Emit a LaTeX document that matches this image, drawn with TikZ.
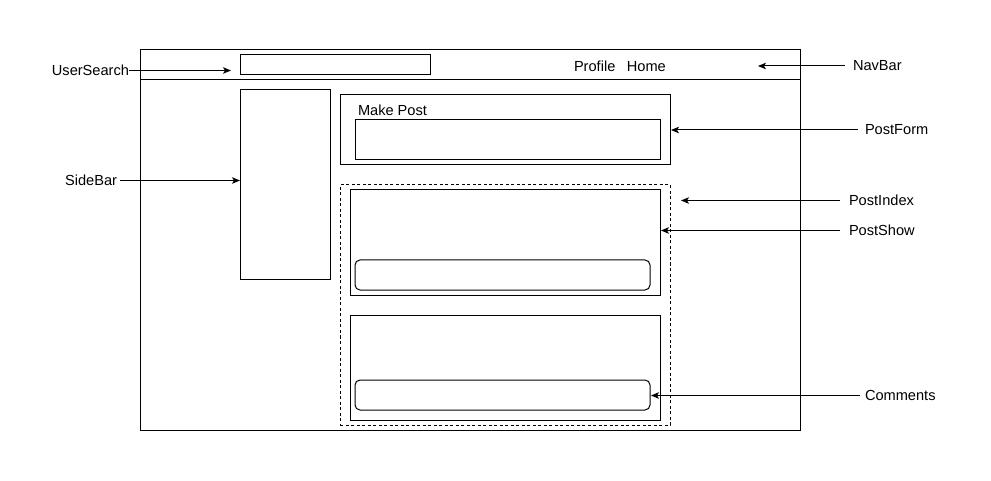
\documentclass[tikz,border=0pt]{standalone}
\usepackage{fontspec}
\setmainfont{Liberation Sans}
\usetikzlibrary{arrows.meta}
\begin{document}
\begin{tikzpicture}[x=1pt,y=-1pt,
  box/.style={draw, line width=1pt, inner sep=0pt, outer sep=0pt, anchor=north west},
  rbox/.style={box, rounded corners=5pt},
  dbox/.style={box, dash pattern=on 3pt off 2.5pt},
  lbl/.style={inner sep=0pt, outer sep=0pt, font=\fontsize{14.6pt}{17pt}\selectfont},
  conn/.style={line width=1pt},
  arr/.style={line width=1pt, -{Stealth[length=8pt,width=6.5pt,inset=2pt]}}]
\useasboundingbox (0,0) rectangle (991,481);
% frame and navbar
\node[box, minimum width=660pt, minimum height=380pt] (frame) at (140,50) {};
\coordinate (navl) at (140,80);
\coordinate (navr) at (800,80);
\draw[conn] (navl) -- (navr);
\node[box, minimum width=190pt, minimum height=20pt] (search) at (240,55) {};
\node[lbl, anchor=west] (links) at (574,66) {Profile\hspace{11.5pt}Home};
% sidebar
\node[box, minimum width=90pt, minimum height=190pt] (side) at (240,90) {};
% post form
\node[box, minimum width=330pt, minimum height=70pt] (form) at (340,95) {};
\node[lbl, anchor=west] (make) at (358,110) {Make Post};
\node[box, minimum width=305pt, minimum height=40pt] (input) at (355,120) {};
% post index
\node[dbox, minimum width=330pt, minimum height=240pt] (index) at (340,185) {};
\node[box, minimum width=310pt, minimum height=105pt] (show1) at (350,190) {};
\node[rbox, minimum width=295pt, minimum height=30pt] (cmt1) at (355,260) {};
\node[box, minimum width=310pt, minimum height=105pt] (show2) at (350,315) {};
\node[rbox, minimum width=295pt, minimum height=30pt] (cmt2) at (355,380) {};
% labels
\node[lbl, anchor=east] (lUser) at (129,70.5) {UserSearch};
\node[lbl, anchor=east] (lSide) at (117,180.5) {SideBar};
\node[lbl, anchor=west] (lNav) at (853,66) {NavBar};
\node[lbl, anchor=west] (lForm) at (865,130) {PostForm};
\node[lbl, anchor=west] (lIndex) at (849,200.5) {PostIndex};
\node[lbl, anchor=west] (lShow) at (849,230.5) {PostShow};
\node[lbl, anchor=west] (lCmt) at (865,395.5) {Comments};
% arrow targets
\coordinate (tUser) at (231,70.5);
\coordinate (tSide) at (240,180.5);
\coordinate (tNav) at (758,66);
\coordinate (tForm) at (671,130);
\coordinate (tIndex) at (681,200.5);
\coordinate (tShow) at (661,230.5);
\coordinate (tCmt) at (651,395.5);
% arrows
\draw[arr] (lUser.east) -- (tUser);
\draw[arr, shorten <=3pt] (lSide.east) -- (tSide);
\draw[arr, shorten <=8pt] (lNav.west) -- (tNav);
\draw[arr, shorten <=7pt] (lForm.west) -- (tForm);
\draw[arr, shorten <=9pt] (lIndex.west) -- (tIndex);
\draw[arr, shorten <=9pt] (lShow.west) -- (tShow);
\draw[arr, shorten <=5pt] (lCmt.west) -- (tCmt);
\end{tikzpicture}
\end{document}
